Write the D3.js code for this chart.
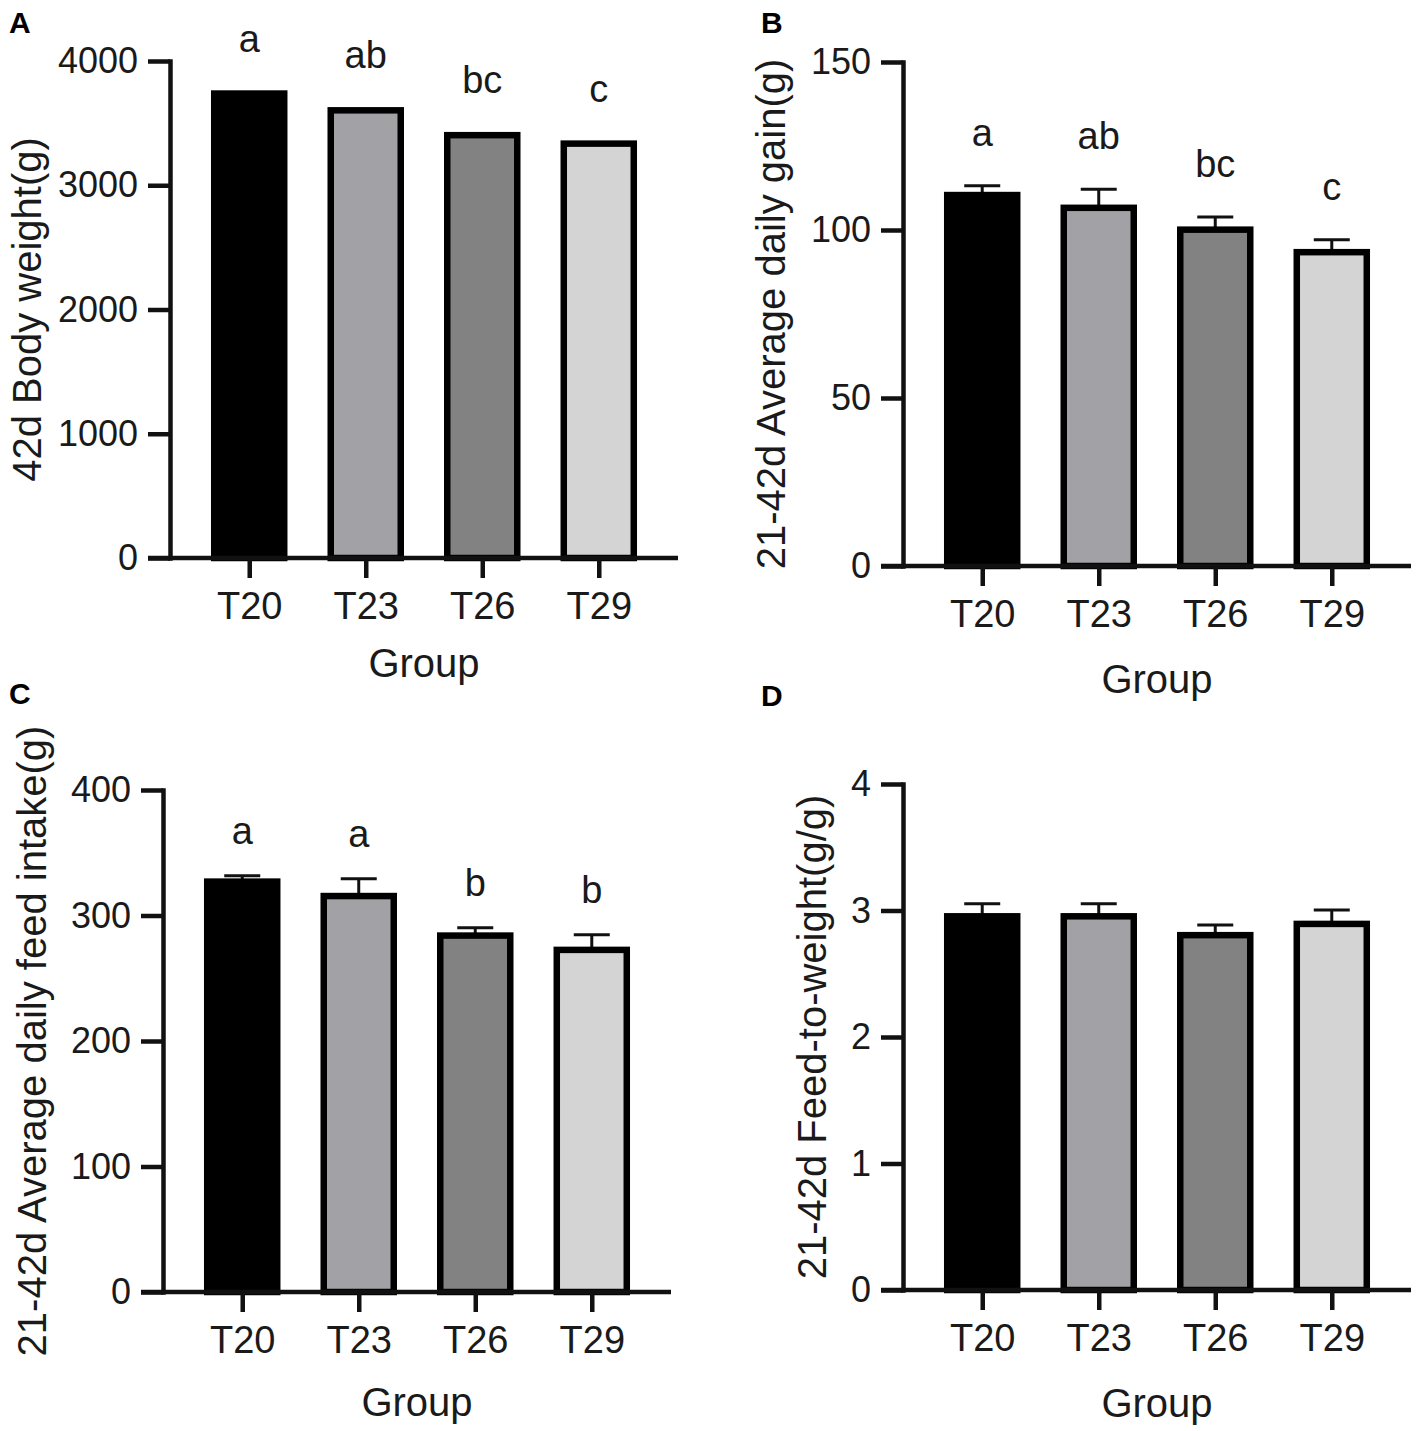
<!DOCTYPE html>
<html>
<head>
<meta charset="utf-8">
<script src="https://cdn.jsdelivr.net/npm/d3@7"></script>
<style>
  body { margin: 0; background: #fff; }
  svg { display: block; font-family: "Liberation Sans", Arial, sans-serif; }
</style>
</head>
<body>
<svg id="chart" width="1420" height="1431"></svg>
<script>
// groups and fills
var groups = ["T20", "T23", "T26", "T29"];
var barColors = ["#000000", "#a2a2a6", "#828282", "#d4d4d4"];

// A: 42d body weight (error bars hidden under the bar border)
var bodyWeight = [3738, 3603, 3403, 3335];
var bodyLetters = ["a", "ab", "bc", "c"];
var bodyTicks = [0, 1000, 2000, 3000, 4000];

// B: 21-42d average daily gain
var gainMean = [110.4, 106.6, 100.1, 93.4];
var gainSD = [2.8, 5.5, 3.8, 3.7];
var gainLetters = ["a", "ab", "bc", "c"];
var gainTicks = [0, 50, 100, 150];

// C: 21-42d average daily feed intake
var feedMean = [327, 315.5, 284, 272.6];
var feedSD = [4.6, 13.7, 6.3, 12.1];
var feedLetters = ["a", "a", "b", "b"];
var feedTicks = [0, 100, 200, 300, 400];

// D: 21-42d feed-to-weight
var fcrMean = [2.954, 2.954, 2.805, 2.894];
var fcrSD = [0.10, 0.10, 0.08, 0.11];
var fcrTicks = [0, 1, 2, 3, 4];

var svg = d3.select("#chart");
svg.append("rect").attr("width", 1420).attr("height", 1431).attr("fill", "#fff");

var INK = "#111";
var AXIS_W = 4.5;
var X_LEN = 508;
var TICK = 22;
var BAR_W = 70;

function drawPanel(cfg) {
    var g = svg.append("g");

    var y = d3.scaleLinear().domain([0, cfg.max]).range([cfg.base, cfg.top]);
    var x = d3.scalePoint().domain(groups).range([cfg.x0, cfg.x0 + X_LEN]).padding(0.68);

    var rows = groups.map(function(d, i){
        return {g: d, v: cfg.values[i], sd: cfg.sd ? cfg.sd[i] : 0,
                color: barColors[i], letter: cfg.letters ? cfg.letters[i] : null};
    });

    // error bars (upper only), drawn first so the bar border sits on top
    if (cfg.sd) {
        var eb = g.selectAll(".eb").data(rows).enter().append("g");
        eb.append("line")
            .attr("x1", function(d){ return x(d.g); })
            .attr("x2", function(d){ return x(d.g); })
            .attr("y1", function(d){ return y(d.v); })
            .attr("y2", function(d){ return y(d.v + d.sd); })
            .attr("stroke", INK).attr("stroke-width", 3);
        eb.append("line")
            .attr("x1", function(d){ return x(d.g) - 18; })
            .attr("x2", function(d){ return x(d.g) + 18; })
            .attr("y1", function(d){ return y(d.v + d.sd); })
            .attr("y2", function(d){ return y(d.v + d.sd); })
            .attr("stroke", INK).attr("stroke-width", 3);
    }

    g.selectAll(".bar").data(rows).enter().append("rect")
        .attr("x", function(d){ return x(d.g) - BAR_W / 2; })
        .attr("y", function(d){ return y(d.v); })
        .attr("width", BAR_W)
        .attr("height", function(d){ return cfg.base - y(d.v); })
        .attr("fill", function(d){ return d.color; })
        .attr("stroke", "#000")
        .attr("stroke-width", 6.5);

    // y axis
    var ya = g.append("g")
        .attr("transform", "translate(" + cfg.x0 + ",0)")
        .call(d3.axisLeft(y).tickValues(cfg.ticks).tickFormat(d3.format("d"))
            .tickSize(TICK).tickSizeOuter(0).tickPadding(10));
    ya.select(".domain").attr("stroke", INK).attr("stroke-width", AXIS_W).attr("stroke-linecap", "square");
    ya.selectAll(".tick line").attr("stroke", INK).attr("stroke-width", AXIS_W);
    ya.selectAll(".tick text").attr("font-size", 36).attr("fill", "#1a1a1a")
        .attr("font-family", "Liberation Sans, Arial, sans-serif");

    // x axis: baseline starts at the y tick start, as in the original
    g.append("line")
        .attr("x1", cfg.x0 - TICK).attr("x2", cfg.x0 + X_LEN)
        .attr("y1", cfg.base).attr("y2", cfg.base)
        .attr("stroke", INK).attr("stroke-width", AXIS_W);
    var xa = g.append("g")
        .attr("transform", "translate(0," + cfg.base + ")")
        .call(d3.axisBottom(x).tickSize(20).tickPadding(14));
    xa.select(".domain").remove();
    xa.selectAll(".tick line").attr("stroke", INK).attr("stroke-width", AXIS_W);
    xa.selectAll(".tick text").attr("font-size", 38).attr("fill", "#1a1a1a")
        .attr("font-family", "Liberation Sans, Arial, sans-serif");

    // significance letters
    if (cfg.letters) {
        g.selectAll(".letter").data(rows).enter().append("text")
            .attr("x", function(d){ return x(d.g); })
            .attr("y", function(d){ return y(d.v + d.sd) - cfg.letterGap; })
            .attr("text-anchor", "middle")
            .attr("font-size", 38)
            .attr("fill", "#1a1a1a")
            .text(function(d){ return d.letter; });
    }

    // axis titles
    g.append("text")
        .attr("transform", "translate(" + cfg.titleX + "," + ((cfg.top + cfg.base) / 2) + ") rotate(-90)")
        .attr("text-anchor", "middle")
        .attr("dominant-baseline", "central")
        .attr("font-size", 40)
        .attr("fill", "#1a1a1a")
        .text(cfg.title);

    g.append("text")
        .attr("x", (x(groups[0]) + x(groups[groups.length - 1])) / 2)
        .attr("y", cfg.base + cfg.groupDy)
        .attr("text-anchor", "middle")
        .attr("font-size", 40)
        .attr("fill", "#1a1a1a")
        .text("Group");

    // panel letter
    g.append("text")
        .attr("x", cfg.labelX).attr("y", cfg.labelY)
        .attr("font-size", 30)
        .attr("font-weight", "bold")
        .attr("fill", "#000")
        .text(cfg.label);
}

drawPanel({label: "A", labelX: 9, labelY: 33,
    x0: 170, top: 61, base: 558, max: 4000, ticks: bodyTicks,
    values: bodyWeight, sd: null, letters: bodyLetters, letterGap: 42,
    title: "42d Body weight(g)", titleX: 27, groupDy: 119});

drawPanel({label: "B", labelX: 761, labelY: 33,
    x0: 903, top: 62, base: 566, max: 150, ticks: gainTicks,
    values: gainMean, sd: gainSD, letters: gainLetters, letterGap: 40,
    title: "21-42d Average daily gain(g)", titleX: 771, groupDy: 127});

drawPanel({label: "C", labelX: 9, labelY: 704,
    x0: 163, top: 790, base: 1292, max: 400, ticks: feedTicks,
    values: feedMean, sd: feedSD, letters: feedLetters, letterGap: 32,
    title: "21-42d Average daily feed intake(g)", titleX: 32, groupDy: 124});

drawPanel({label: "D", labelX: 761, labelY: 706,
    x0: 903, top: 784, base: 1290, max: 4, ticks: fcrTicks,
    values: fcrMean, sd: fcrSD, letters: null, letterGap: 0,
    title: "21-42d Feed-to-weight(g/g)", titleX: 812, groupDy: 127});
</script>
</body>
</html>
